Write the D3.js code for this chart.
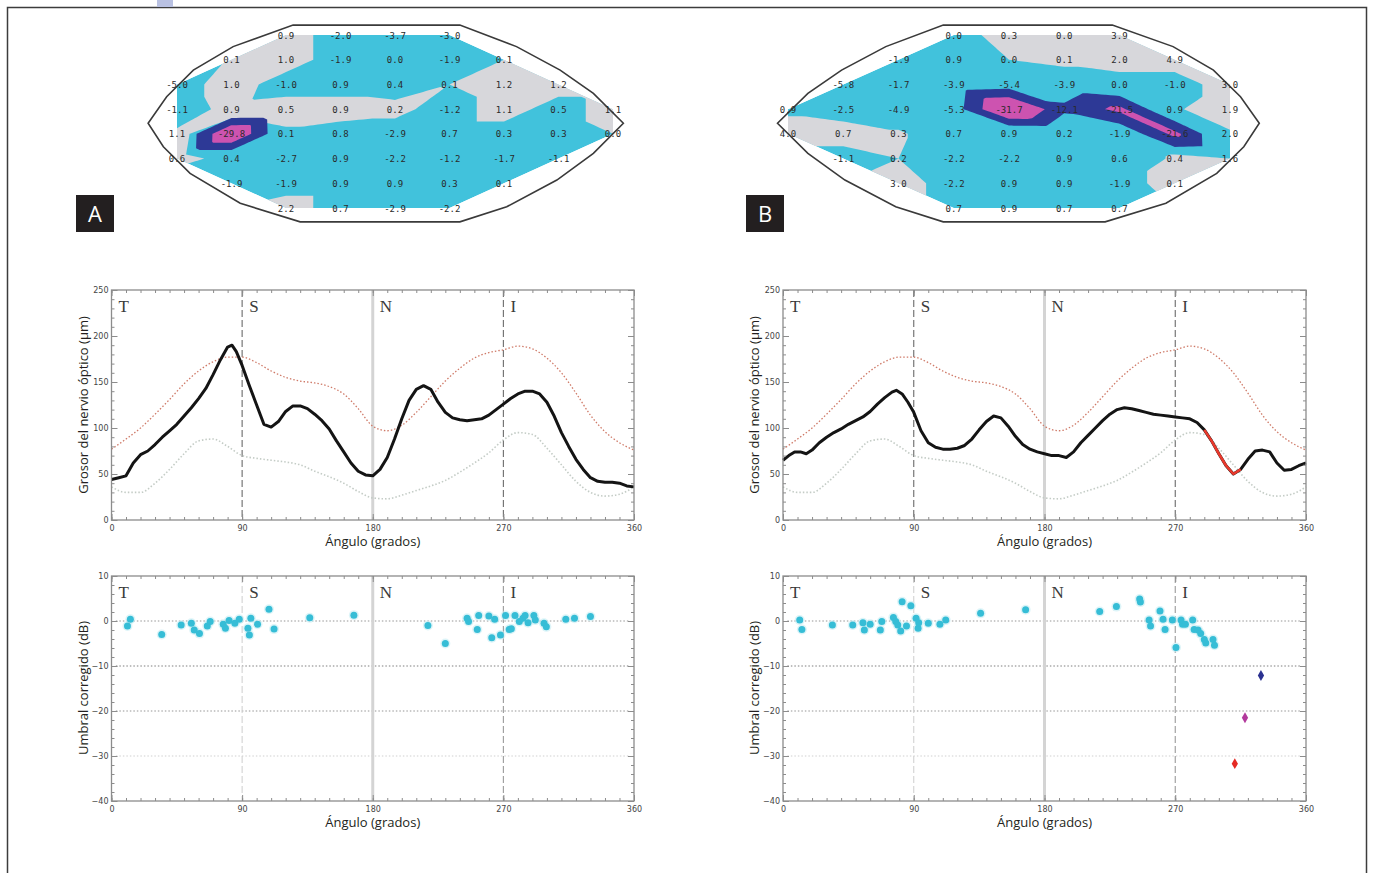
<!DOCTYPE html>
<html><head><meta charset="utf-8">
<script src="https://cdn.jsdelivr.net/npm/d3@7"></script>
<style>body{margin:0;background:#fff}svg{display:block}</style>
</head><body>
<svg id="c" width="1373" height="873"></svg>
<script>
// ---------------- DATA ----------------
// Visual-field maps (24-2 grid, rows top->bottom), first column of each row
const rowStartA = [2,1,0,0,0,0,1,2];
const rowStartB = [3,2,1,0,0,1,2,3];
const valuesA = [
 [0.9,-2.0,-3.7,-3.0],
 [0.1,1.0,-1.9,0.0,-1.9,0.1],
 [-5.0,1.0,-1.0,0.9,0.4,0.1,1.2,1.2],
 [-1.1,0.9,0.5,0.9,0.2,-1.2,1.1,0.5,1.1],
 [1.1,-29.8,0.1,0.8,-2.9,0.7,0.3,0.3,0.0],
 [0.6,0.4,-2.7,0.9,-2.2,-1.2,-1.7,-1.1],
 [-1.9,-1.9,0.9,0.9,0.3,0.1],
 [2.2,0.7,-2.9,-2.2]
];
const valuesB = [
 [0.0,0.3,0.0,3.9],
 [-1.9,0.9,0.0,0.1,2.0,4.9],
 [-5.8,-1.7,-3.9,-5.4,-3.9,0.0,-1.0,3.0],
 [0.9,-2.5,-4.9,-5.3,-31.7,-12.1,-21.5,0.9,1.9],
 [4.0,0.7,0.3,0.7,0.9,0.2,-1.9,-21.6,2.0],
 [-1.1,0.2,-2.2,-2.2,0.9,0.6,0.4,1.6],
 [3.0,-2.2,0.9,0.9,-1.9,0.1],
 [0.7,0.9,0.7,0.7]
];
const grayA = [
 [1,0,0,0],
 [0.6,1,0,0,0,0.5],
 [0,1,0,0,0,0.5,1,1],
 [0,0.8,1,1,0.8,0,1,0,1],
 [0.65,0,0.3,0,0,0,0,0,0.5],
 [0.6,0.4,0,0,0,0,0,0],
 [0,0,0,0,0,0],
 [1,0,0,0]
];
const grayB = [
 [0,1,1,1],
 [0,0,0.5,0.7,1,1],
 [0,0,0,0,0,0,0,1],
 [0.3,0,0,0,0,0,0,0.4,1],
 [1,1,0.6,0,0,0,0,0,0.4],
 [0,0.5,0,0,0,0,0.6,0.5],
 [1,0,0,0,0,1],
 [0,0,0,0]
];
const mapThresholds = [10, 19]; // dB loss levels (navy, magenta)
// outline of the field (grid units, left eye; mirrored for right eye)
const outlineShape = [[-0.53,3.57],[-0.19,2.5],[0.3,1.42],[1.03,0.47],[2.13,-0.4],[5.19,-0.4],[6.23,0.47],[7.03,1.42],[7.64,2.36],[8.19,3.57],[7.64,4.79],[6.97,5.87],[6.05,6.95],[5.19,7.56],[2.26,7.56],[1.16,6.81],[0.24,5.6],[-0.25,4.52]];

// RNFL thickness profiles [angle, µm]
const upperNormal = [[0,77],[10,88],[20,100],[30,115],[40,131],[50,148],[60,162],[70,172],[80,177],[90,177],[100,171],[110,162],[120,155],[130,151],[140,149],[150,145],[160,137],[170,121],[180,102],[190,97],[200,103],[210,117],[220,134],[230,151],[240,165],[250,176],[260,182],[270,185],[280,189],[290,186],[300,176],[310,160],[320,138],[330,114],[340,96],[350,84],[360,76]];
const lowerNormal = [[0,36],[10,30],[20,30],[30,40],[40,55],[50,72],[60,86],[70,88],[80,80],[90,70],[100,67],[110,65],[120,63],[130,60],[140,53],[150,47],[160,40],[170,31],[180,24],[190,23],[200,27],[210,32],[220,37],[230,43],[240,52],[250,62],[260,73],[270,87],[280,95],[290,93],[300,78],[310,60],[320,42],[330,30],[340,26],[350,28],[360,36]];
const thicknessA = [[0,44],[5,46],[10,48],[15,62],[20,71],[25,75],[30,82],[35,90],[40,97],[45,104],[50,113],[55,122],[60,132],[65,143],[70,158],[75,174],[80,188],[83,190],[86,183],[90,168],[95,146],[100,125],[105,104],[110,101],[115,107],[120,118],[125,124],[130,124],[135,121],[140,115],[145,108],[150,99],[155,86],[160,74],[165,62],[170,53],[175,49],[180,48],[185,55],[190,68],[195,88],[200,110],[205,130],[210,142],[215,146],[220,142],[225,128],[230,117],[235,111],[240,109],[245,108],[250,109],[255,110],[260,114],[265,120],[270,126],[275,132],[280,137],[285,140],[290,140],[295,137],[300,128],[305,113],[310,95],[315,80],[320,66],[325,55],[330,46],[335,42],[340,41],[345,41],[350,40],[355,37],[360,36]];
const thicknessB = [[0,65],[4,70],[8,74],[12,74],[16,72],[20,76],[25,84],[30,90],[35,95],[40,99],[45,104],[50,108],[55,112],[60,118],[65,126],[70,133],[75,139],[78,141],[82,137],[86,128],[90,117],[95,97],[100,84],[105,79],[110,77],[115,77],[120,78],[125,81],[130,88],[135,98],[140,107],[145,113],[150,111],[155,102],[160,91],[165,82],[170,77],[175,74],[180,72],[185,70],[190,70],[195,68],[200,74],[205,84],[210,92],[215,100],[220,108],[225,115],[230,120],[235,122],[240,121],[245,119],[250,117],[255,115],[260,114],[265,113],[270,112],[275,111],[280,110],[285,106],[290,98],[295,86],[300,72],[305,59],[310,50],[315,55],[320,66],[325,75],[330,76],[335,74],[340,62],[345,54],[350,55],[355,59],[360,62]];
const abnormalRangeB = [290, 315];

// corrected threshold vs angle [angle, dB]
const thresholdA = [[11,-1.1],[13,0.4],[34.6,-3.0],[48,-0.9],[55,-0.5],[57,-2.0],[60.6,-2.8],[66,-1.1],[68,-0.1],[77,-0.7],[78.5,-1.6],[81,0.1],[85,-0.5],[88,0.4],[94,-1.6],[95,-3.1],[96,0.6],[100.6,-0.7],[108.5,2.6],[112,-1.8],[136.6,0.7],[167,1.3],[218,-1.0],[230,-5.0],[245,0.6],[246,-0.1],[252,-1.9],[253,1.2],[260,1.1],[262,-3.7],[264,0.4],[268,-3.1],[271.5,1.2],[274,-1.9],[275.5,-1.7],[278,1.2],[281,-0.1],[283.5,0.6],[285,1.2],[287,-0.4],[291,1.2],[292,0.2],[298,-0.5],[299.6,-1.3],[313,0.4],[319,0.6],[330,1.0]];
const thresholdB = [[11.5,0.2],[13,-1.9],[34,-0.9],[48,-0.9],[55,-0.4],[56,-2.0],[60,-0.7],[67,-2.0],[68,-0.1],[76,0.8],[77.6,-0.1],[79,-0.9],[81,-2.2],[82,4.3],[85,-1.1],[88,3.4],[91.6,0.6],[93,-1.6],[93.4,-0.4],[100,-0.5],[108,-0.7],[112,0.2],[136,1.7],[167,2.5],[218,2.1],[229.5,3.2],[245.5,4.9],[246,4.2],[252,0.2],[253,-1.1],[259.5,2.2],[261.6,0.4],[263,-1.9],[268,0.2],[270.5,-5.9],[274,0.2],[275,-0.7],[277,-0.7],[282,0.2],[283,-1.9],[285.7,-2.0],[287.5,-2.8],[290,-4.1],[291,-4.9],[296,-4.1],[297,-5.4]];
const defectsB = [[329,-12.1,"#2b3190"],[318,-21.5,"#b2399c"],[311,-31.7,"#e52a24"]];

const sectorLabels = ["T","S","N","I"];
const sectorAngles = [0,90,180,270];
const thicknessTicks = [0,50,100,150,200,250];
const thresholdTicks = [10,0,-10,-20,-30,-40];
const angleTicks = [0,90,180,270,360];

// ---------------- DRAW ----------------
const svg = d3.select("#c");
svg.append("rect").attr("x",7.5).attr("y",7.5).attr("width",1359).attr("height",900)
  .attr("fill","none").attr("stroke","#3c3c3c").attr("stroke-width",1.5);
svg.append("rect").attr("x",157).attr("y",0).attr("width",16).attr("height",7).attr("fill","#b9c1e2");

const COL = {cyan:"#41c2dc", gray:"#d7d7db", navy:"#2d3996", mag:"#cd53b0"};

function drawMap(opt){
  const g = svg.append("g");
  const xs = d3.scaleLinear().domain([0,8]).range(opt.xRange);
  const ys = d3.scaleLinear().domain([0,7]).range([35,208]);
  const NC=11, NR=10, K=12;
  const val = new Array(NC*NR).fill(null), gry = new Array(NC*NR).fill(null);
  const nodes = [];
  opt.values.forEach((row,r)=>row.forEach((v,i)=>{
    const c = opt.starts[r]+i, idx=(r+1)*NC+(c+1);
    val[idx] = -v; gry[idx] = opt.gray[r][i]; nodes.push({r,c,v});
  }));
  function fill(arr){
    const out = arr.slice();
    for(let R=0;R<NR;R++)for(let C=0;C<NC;C++){
      const idx=R*NC+C; if(arr[idx]!==null) continue;
      let best=Infinity,sum=0,n=0;
      nodes.forEach(nd=>{const d=(nd.c+1-C)**2+(nd.r+1-R)**2, a=arr[(nd.r+1)*NC+nd.c+1];
        if(d<best-1e-9){best=d;sum=a;n=1;} else if(Math.abs(d-best)<1e-9){sum+=a;n++;}});
      out[idx]=sum/n;
    }
    return out;
  }
  const NX=(NC-1)*K+1, NY=(NR-1)*K+1;
  function up(grid){
    const out = new Float64Array(NX*NY);
    for(let j=0;j<NY;j++)for(let i=0;i<NX;i++){
      const cx=Math.min(Math.floor(i/K),NC-2), cy=Math.min(Math.floor(j/K),NR-2);
      const fx=i/K-cx, fy=j/K-cy;
      const v00=grid[cy*NC+cx], v10=grid[cy*NC+cx+1], v01=grid[(cy+1)*NC+cx], v11=grid[(cy+1)*NC+cx+1];
      let v;
      if(opt.diag==="\\"){ v = fx>=fy ? v00+fx*(v10-v00)+fy*(v11-v10) : v00+fy*(v01-v00)+fx*(v11-v01); }
      else { v = fx+fy<=1 ? v00+fx*(v10-v00)+fy*(v01-v00) : v11+(1-fx)*(v01-v11)+(1-fy)*(v10-v11); }
      out[j*NX+i]=v;
    }
    return out;
  }
  const proj = d3.geoTransform({point:function(x,y){ this.stream.point(xs(-1+(x-0.5)/K), ys(-1+(y-0.5)/K)); }});
  const path = d3.geoPath(proj);
  const hull = d3.polygonHull(nodes.map(n=>[xs(n.c),ys(n.r)]));
  const id = "clip"+opt.name;
  svg.append("clipPath").attr("id",id).append("path").attr("d","M"+hull.join("L")+"Z");
  const cg = g.append("g").attr("clip-path",`url(#${id})`);
  cg.append("path").attr("d","M"+hull.join("L")+"Z").attr("fill",COL.cyan);
  const gc = d3.contours().size([NX,NY]).thresholds([0.5])(up(fill(gry)));
  cg.selectAll("path.gr").data(gc).join("path").attr("class","gr").attr("d",path).attr("fill",COL.gray);
  const dc = d3.contours().size([NX,NY]).thresholds(mapThresholds)(up(fill(val)));
  cg.selectAll("path.db").data(dc).join("path").attr("class","db").attr("d",path)
    .attr("fill",(d,i)=>i===0?COL.navy:COL.mag);
  // outline
  const ol = outlineShape.map(p=>[xs(opt.mirror?8-p[0]:p[0]), ys(p[1])]);
  g.append("path").attr("d",d3.line().curve(d3.curveLinearClosed)(ol))
    .attr("fill","none").attr("stroke","#3a3a3a").attr("stroke-width",1.6);
  g.selectAll("text.v").data(nodes).join("text").attr("class","v")
    .attr("x",d=>xs(d.c)).attr("y",d=>ys(d.r)+3.5).attr("text-anchor","middle")
    .attr("font-family","DejaVu Sans Mono, monospace").attr("font-size",9).attr("fill","#2a2a2a")
    .text(d=>d.v.toFixed(1));
  // panel letter
  const bx = opt.labelX;
  svg.append("rect").attr("x",bx).attr("y",195).attr("width",38).attr("height",37).attr("fill","#231f20");
  svg.append("text").attr("x",bx+19).attr("y",222).attr("text-anchor","middle")
    .attr("font-family","Open Sans, sans-serif").attr("font-size",22).attr("fill","#fff").text(opt.name);
}
drawMap({name:"A", values:valuesA, gray:grayA, starts:rowStartA, xRange:[177,613], diag:"/", mirror:false, labelX:76});
drawMap({name:"B", values:valuesB, gray:grayB, starts:rowStartB, xRange:[788,1230], diag:"\\", mirror:true, labelX:746});

function frameAxes(g, x, y, majorY, minorY, top, bottom, left, right){
  const ax = (a)=>a.call(s=>s.select(".domain").remove()).call(s=>s.selectAll("line").attr("stroke","#8c8c8c"))
     .call(s=>s.selectAll("text").attr("font-family","DejaVu Sans, sans-serif").attr("font-size",8).attr("fill","#444"));
  g.append("g").attr("transform",`translate(${left},0)`).call(d3.axisLeft(y).tickValues(minorY).tickSize(-3).tickFormat("")).call(ax);
  g.append("g").attr("transform",`translate(${left},0)`).call(d3.axisLeft(y).tickValues(majorY).tickSize(-6).tickPadding(3).tickFormat(d3.format("d"))).call(ax);
  g.append("g").attr("transform",`translate(${right},0)`).call(d3.axisRight(y).tickValues(minorY).tickSize(-3).tickFormat("")).call(ax);
  g.append("g").attr("transform",`translate(${right},0)`).call(d3.axisRight(y).tickValues(majorY).tickSize(-6).tickFormat("")).call(ax);
  g.append("g").attr("transform",`translate(0,${bottom})`).call(d3.axisBottom(x).tickValues(d3.range(0,361,10)).tickSize(-3).tickFormat("")).call(ax);
  g.append("g").attr("transform",`translate(0,${bottom})`).call(d3.axisBottom(x).tickValues(angleTicks).tickSize(-6).tickPadding(5).tickFormat(d3.format("d"))).call(ax);
  g.append("g").attr("transform",`translate(0,${top})`).call(d3.axisTop(x).tickValues(d3.range(0,361,10)).tickSize(-3).tickFormat("")).call(ax);
  g.append("g").attr("transform",`translate(0,${top})`).call(d3.axisTop(x).tickValues(angleTicks).tickSize(-6).tickFormat("")).call(ax);
  g.append("rect").attr("x",left).attr("y",top).attr("width",right-left).attr("height",bottom-top)
    .attr("fill","none").attr("stroke","#8c8c8c").attr("stroke-width",1.3);
}
function titles(g, cx, cy, xt, yt, bottom, left){
  g.append("text").attr("x",cx).attr("y",bottom+26).attr("text-anchor","middle")
    .attr("font-family","Open Sans, sans-serif").attr("font-size",13).attr("fill","#231f20").text(xt);
  g.append("text").attr("transform",`translate(${left-24},${cy}) rotate(-90)`).attr("text-anchor","middle")
    .attr("font-family","Open Sans, sans-serif").attr("font-size",13).attr("fill","#231f20").text(yt);
}
function sectors(g, x, top, bottom, dark){
  [90,180,270].forEach(a=>{
    const isN = a===180;
    g.append("line").attr("x1",x(a)).attr("x2",x(a)).attr("y1",top).attr("y2",bottom)
      .attr("stroke", isN ? "#d4d4d4" : dark(a)).attr("stroke-width", isN?3:1.1)
      .attr("stroke-dasharray", isN ? null : "7,3");
  });
  g.selectAll("text.sec").data(sectorLabels).join("text").attr("class","sec")
    .attr("x",(d,i)=>x(sectorAngles[i])+7).attr("y",top+22)
    .attr("font-family","Liberation Serif, serif").attr("font-size",17).attr("fill","#3a3a3a").text(d=>d);
}

function drawThickness(opt){
  const g = svg.append("g");
  const x = d3.scaleLinear().domain([0,360]).range(opt.xRange);
  const y = d3.scaleLinear().domain([0,250]).range([520,290]);
  sectors(g, x, 290, 520, ()=>"#6a6a6a");
  const line = d3.line().x(d=>x(d[0])).y(d=>y(d[1]));
  const smooth = d3.line().curve(d3.curveMonotoneX).x(d=>x(d[0])).y(d=>y(d[1]));
  g.append("path").attr("d",smooth(lowerNormal)).attr("fill","none").attr("stroke","#c4ccc6").attr("stroke-width",1.6).attr("stroke-dasharray","1.5,2");
  g.append("path").attr("d",smooth(upperNormal)).attr("fill","none").attr("stroke","#cf7a68").attr("stroke-width",1.3).attr("stroke-dasharray","1.5,2");
  g.append("path").attr("d",line(opt.data)).attr("fill","none").attr("stroke","#141414").attr("stroke-width",3).attr("stroke-linejoin","round");
  if(opt.abnormal){
    const seg = opt.data.filter(d=>d[0]>=opt.abnormal[0]&&d[0]<=opt.abnormal[1]);
    g.append("path").attr("d",line(seg)).attr("fill","none").attr("stroke","#e8392c").attr("stroke-width",2.6).attr("stroke-linejoin","round");
  }
  frameAxes(g, x, y, thicknessTicks, d3.range(0,251,10), 290, 520, opt.xRange[0], opt.xRange[1]);
  titles(g, (opt.xRange[0]+opt.xRange[1])/2, 405, "Ángulo (grados)", "Grosor del nervio óptico (µm)", 520, opt.xRange[0]);
}
drawThickness({xRange:[111.5,634], data:thicknessA});
drawThickness({xRange:[783,1306], data:thicknessB, abnormal:abnormalRangeB});

function drawThreshold(opt){
  const g = svg.append("g");
  const x = d3.scaleLinear().domain([0,360]).range(opt.xRange);
  const y = d3.scaleLinear().domain([-40,10]).range([801,576]);
  [[0,"#b9b9b9",1.3],[-10,"#a9a9a9",1.6],[-20,"#b9b9b9",1.4],[-30,"#e0e0e0",1.4]].forEach(([v,c,w])=>{
    g.append("line").attr("x1",x(3)).attr("x2",x(357)).attr("y1",y(v)).attr("y2",y(v))
      .attr("stroke",c).attr("stroke-width",w).attr("stroke-dasharray","1.5,2");
  });
  sectors(g, x, 576, 801, a=> a===90 ? "#d2d2d2" : "#9a9a9a");
  g.selectAll("circle.h").data(opt.data).join("circle").attr("class","h")
    .attr("cx",d=>x(d[0])).attr("cy",d=>y(d[1])).attr("r",5).attr("fill","#c5ecf3").attr("opacity",0.6);
  g.selectAll("circle.p").data(opt.data).join("circle").attr("class","p")
    .attr("cx",d=>x(d[0])).attr("cy",d=>y(d[1])).attr("r",3.5).attr("fill","#36bdd6");
  if(opt.defects){
    g.selectAll("path.df").data(opt.defects).join("path").attr("class","df")
      .attr("transform",d=>`translate(${x(d[0])},${y(d[1])})`)
      .attr("d",d3.symbol(d3.symbolDiamond).size(34)).attr("fill",d=>d[2]);
  }
  frameAxes(g, x, y, thresholdTicks, d3.range(-40,11,2), 576, 801, opt.xRange[0], opt.xRange[1]);
  titles(g, (opt.xRange[0]+opt.xRange[1])/2, 688, "Ángulo (grados)", "Umbral corregido (dB)", 801, opt.xRange[0]);
}
drawThreshold({xRange:[111.5,634], data:thresholdA});
drawThreshold({xRange:[783,1306], data:thresholdB, defects:defectsB});
</script>
</body></html>
